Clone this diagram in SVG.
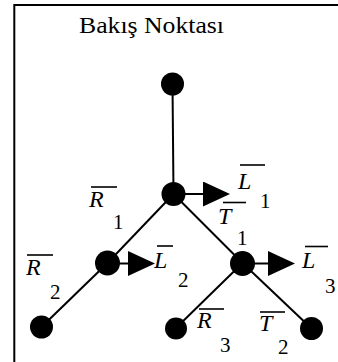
<svg xmlns="http://www.w3.org/2000/svg" width="338" height="362" viewBox="0 0 338 362">
<style>
.edge{stroke:#000;stroke-width:2;fill:none}
.node{fill:#000}
.ov{stroke:#000;stroke-width:1.6}
.v{font-style:italic;font-size:24px;fill:#000}
.s{font-size:21px;fill:#000}
.t{font-size:24px;fill:#000}
</style>
<defs>
<marker id="arr" markerUnits="userSpaceOnUse" markerWidth="27" markerHeight="25" refX="2" refY="12.5" orient="auto" viewBox="0 0 27 25">
<path d="M0,0 L27,12.5 L0,25 Z" fill="#000"/>
</marker>
</defs>
<rect x="14.3" y="5" width="340" height="370" fill="none" stroke="#000" stroke-width="2"/>
<g font-family="Liberation Serif, Times New Roman, serif">
<text class="t" x="79" y="33" textLength="145" lengthAdjust="spacingAndGlyphs">Bakış Noktası</text>
</g>
<g id="connectors">
<line class="edge" x1="172.5" y1="84" x2="173.5" y2="194"/>
<line class="edge" x1="173.5" y1="194" x2="107.5" y2="263"/>
<line class="edge" x1="173.5" y1="194" x2="242.5" y2="263"/>
<line class="edge" x1="107.5" y1="263" x2="41.5" y2="327"/>
<line class="edge" x1="242.5" y1="263" x2="176" y2="328"/>
<line class="edge" x1="242.5" y1="263" x2="311.5" y2="328.5"/>
<line class="edge" x1="185" y1="194" x2="205" y2="194" marker-end="url(#arr)"/>
<line class="edge" x1="119" y1="263.5" x2="130" y2="263.5" marker-end="url(#arr)"/>
<line class="edge" x1="254" y1="263.5" x2="270" y2="263.5" marker-end="url(#arr)"/>
</g>
<g id="n0"><circle class="node" cx="172.5" cy="84" r="11.5"/></g>
<g id="n1"><circle class="node" cx="173.5" cy="194" r="12"/></g>
<g id="n2"><circle class="node" cx="107.5" cy="263" r="12.5"/></g>
<g id="n3"><circle class="node" cx="242.5" cy="263.5" r="12.5"/></g>
<g id="n4"><circle class="node" cx="41.5" cy="327" r="11.5"/></g>
<g id="n5"><circle class="node" cx="176" cy="328.5" r="11"/></g>
<g id="n6"><circle class="node" cx="311.5" cy="328.5" r="11.5"/></g>
<g id="labels" font-family="Liberation Serif, Times New Roman, serif">
<g id="R1"><text class="v" x="89" y="207">R</text><line class="ov" x1="91" y1="187" x2="117" y2="187"/><text class="s" x="113" y="229">1</text></g>
<g id="L1"><text class="v" x="238" y="189">L</text><line class="ov" x1="240" y1="165" x2="265" y2="165"/><text class="s" x="260" y="208">1</text></g>
<g id="T1"><text class="v" x="218" y="224">T</text><line class="ov" x1="223" y1="202.5" x2="246" y2="202.5"/><text class="s" x="237" y="245">1</text></g>
<g id="L2"><text class="v" x="154" y="268">L</text><line class="ov" x1="157" y1="246" x2="173" y2="246"/><text class="s" x="178" y="287">2</text></g>
<g id="L3"><text class="v" x="302" y="268">L</text><line class="ov" x1="305" y1="246.5" x2="328" y2="246.5"/><text class="s" x="325" y="293">3</text></g>
<g id="R2"><text class="v" x="26" y="275">R</text><line class="ov" x1="27" y1="255" x2="53" y2="255"/><text class="s" x="50" y="299">2</text></g>
<g id="R3"><text class="v" x="197" y="328">R</text><line class="ov" x1="199" y1="309" x2="224" y2="309"/><text class="s" x="220" y="352">3</text></g>
<g id="T2"><text class="v" x="259" y="331">T</text><line class="ov" x1="260" y1="312" x2="285" y2="312"/><text class="s" x="278" y="354">2</text></g>
</g>
</svg>
